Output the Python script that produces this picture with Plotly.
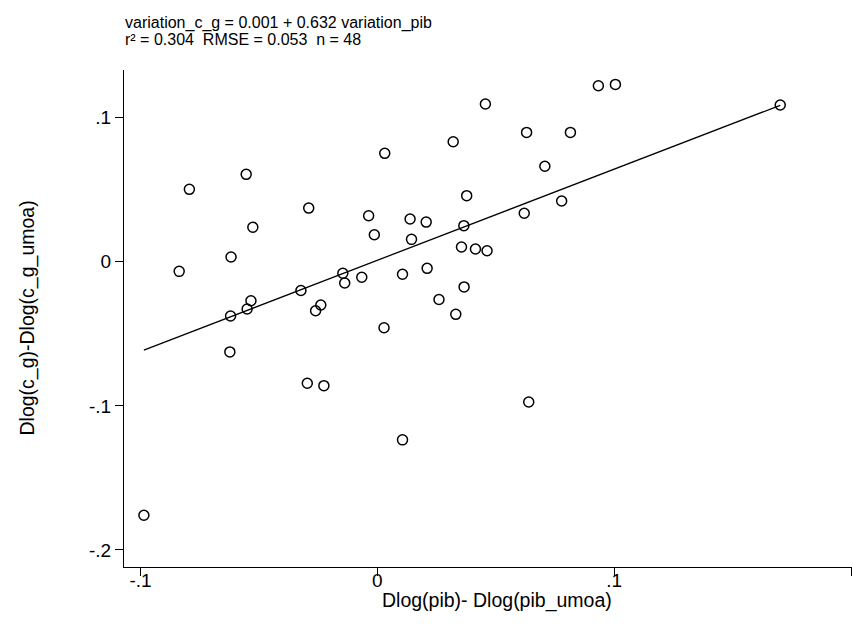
import plotly.graph_objects as go

# Data (Dlog(pib)-Dlog(pib_umoa), Dlog(c_g)-Dlog(c_g_umoa))
x_vals = [0.0456, 0.0320, 0.0031, -0.0554, -0.0794, 0.0377, -0.0290, -0.0037,
          0.0138, 0.0206, -0.0526, 0.0365, -0.0013, 0.0144, 0.0355, 0.0414,
          0.0463, -0.0618, -0.0837, -0.0146, -0.0066, 0.0106, 0.0210, -0.0138,
          0.0366, -0.0323, -0.0534, 0.0260, -0.0550, -0.0239, -0.0261, -0.0620,
          0.0331, 0.0028, -0.0623, -0.0296, -0.0226, 0.0639, 0.0106, -0.0986,
          0.0933, 0.1005, 0.0630, 0.0815, 0.0707, 0.0778, 0.0620, 0.1701]
y_vals = [0.1094, 0.0832, 0.0752, 0.0606, 0.0502, 0.0458, 0.0372, 0.0319,
          0.0296, 0.0275, 0.0239, 0.0250, 0.0187, 0.0155, 0.0102, 0.0088,
          0.0076, 0.0033, -0.0067, -0.0080, -0.0108, -0.0087, -0.0046, -0.0148,
          -0.0175, -0.0200, -0.0271, -0.0262, -0.0328, -0.0300, -0.0340, -0.0377,
          -0.0365, -0.0458, -0.0626, -0.0843, -0.0860, -0.0973, -0.1236, -0.1759,
          0.1221, 0.1230, 0.0897, 0.0897, 0.0662, 0.0421, 0.0336, 0.1087]

intercept = 0.001
slope = 0.632
title_line1 = "variation_c_g = 0.001 + 0.632 variation_pib"
title_line2 = "r\u00b2 = 0.304\u00a0\u00a0RMSE = 0.053\u00a0\u00a0n = 48"

x_ticks = [-0.1, 0.0, 0.1, 0.2]
x_ticktext = ["-.1", "0", ".1", ".2"]
y_ticks = [-0.2, -0.1, 0.0, 0.1]
y_ticktext = ["-.2", "-.1", "0", ".1"]

x_title = "Dlog(pib)- Dlog(pib_umoa)"
y_title = "Dlog(c_g)-Dlog(c_g_umoa)"

FONT = "Liberation Sans, Arial, sans-serif"

line_x = [min(x_vals), max(x_vals)]
line_y = [intercept + slope * v for v in line_x]

fig = go.Figure()
fig.add_trace(go.Scatter(
    x=x_vals, y=y_vals, mode="markers",
    marker=dict(symbol="circle-open", size=10, color="black", line=dict(width=1.5, color="black")),
    showlegend=False, hoverinfo="x+y"))
fig.add_trace(go.Scatter(
    x=line_x, y=line_y, mode="lines",
    line=dict(color="black", width=1.3),
    showlegend=False))

axis_common = dict(showline=True, linecolor="black", linewidth=1.2, ticks="outside",
                   ticklen=8, tickwidth=1, tickcolor="black", showgrid=False,
                   zeroline=False, tickfont=dict(family=FONT, size=19, color="black"))

fig.update_xaxes(range=[-0.107, 0.2004], tickvals=x_ticks, ticktext=x_ticktext,
                 ticklabelstandoff=-12, **axis_common)
fig.update_yaxes(range=[-0.2118, 0.133], tickvals=y_ticks, ticktext=y_ticktext,
                 ticklabelstandoff=0, **axis_common)

fig.update_layout(
    width=852, height=624,
    margin=dict(l=124, r=0, t=70, b=57),
    paper_bgcolor="white", plot_bgcolor="white",
    font=dict(family=FONT, color="black"),
    annotations=[
        dict(text=title_line1, xref="paper", yref="paper", x=-0.0014, y=1.0946,
             xanchor="left", yanchor="middle", showarrow=False,
             font=dict(family=FONT, size=16, color="black")),
        dict(text=title_line2, xref="paper", yref="paper", x=-0.0014, y=1.0604,
             xanchor="left", yanchor="middle", showarrow=False,
             font=dict(family=FONT, size=16, color="black")),
        dict(text=x_title, xref="paper", yref="paper", x=0.5124, y=-0.068,
             xanchor="center", yanchor="middle", showarrow=False,
             font=dict(family=FONT, size=19.5, color="black")),
        dict(text=y_title, xref="paper", yref="paper", x=-0.1332, y=0.50,
             xanchor="center", yanchor="middle", showarrow=False, textangle=-90,
             font=dict(family=FONT, size=19.5, color="black")),
    ],
)

fig.write_html("out.html")
